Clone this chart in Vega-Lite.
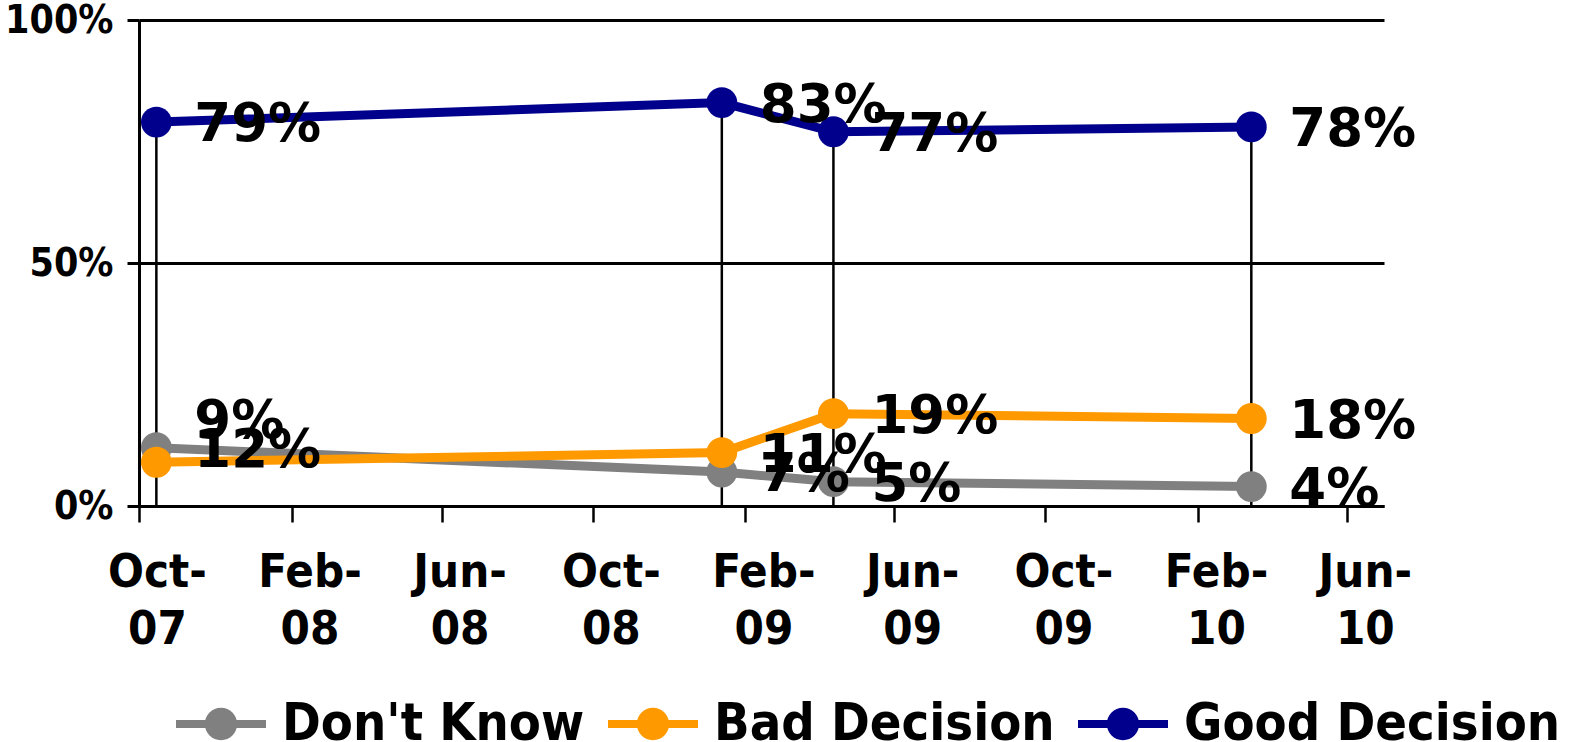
{
  "$schema": "https://vega.github.io/schema/vega-lite/v6.json",
  "autosize": {"type": "none"},
  "width": 1245,
  "height": 486,
  "padding": {"left": 139, "top": 20, "right": 194, "bottom": 236},
  "background": "white",
  "config": {"view": {"stroke": null}, "font": "DejaVu Sans"},
  "data": {
    "values": [
      {"date": "2007-10-15", "series": "Don't Know", "value": 12},
      {"date": "2009-01-13", "series": "Don't Know", "value": 7},
      {"date": "2009-04-13", "series": "Don't Know", "value": 5},
      {"date": "2010-03-16", "series": "Don't Know", "value": 4},
      {"date": "2007-10-15", "series": "Bad Decision", "value": 9},
      {"date": "2009-01-13", "series": "Bad Decision", "value": 11},
      {"date": "2009-04-13", "series": "Bad Decision", "value": 19},
      {"date": "2010-03-16", "series": "Bad Decision", "value": 18},
      {"date": "2007-10-15", "series": "Good Decision", "value": 79},
      {"date": "2009-01-13", "series": "Good Decision", "value": 83},
      {"date": "2009-04-13", "series": "Good Decision", "value": 77},
      {"date": "2010-03-16", "series": "Good Decision", "value": 78}
    ]
  },
  "encoding": {
    "x": {
      "field": "date",
      "type": "temporal",
      "scale": {
        "type": "utc",
        "domain": [
          {"year": 2007, "month": 10, "date": 1, "utc": true},
          {"year": 2010, "month": 7, "date": 1, "utc": true}
        ]
      },
      "axis": {
        "title": null,
        "values": [
          {"year": 2007, "month": 10, "date": 1, "utc": true},
          {"year": 2008, "month": 2, "date": 1, "utc": true},
          {"year": 2008, "month": 6, "date": 1, "utc": true},
          {"year": 2008, "month": 10, "date": 1, "utc": true},
          {"year": 2009, "month": 2, "date": 1, "utc": true},
          {"year": 2009, "month": 6, "date": 1, "utc": true},
          {"year": 2009, "month": 10, "date": 1, "utc": true},
          {"year": 2010, "month": 2, "date": 1, "utc": true},
          {"year": 2010, "month": 6, "date": 1, "utc": true}
        ],
        "labelExpr": "[utcFormat(datum.value, '%b') + '-', utcFormat(datum.value, '%y')]",
        "labelFont": "DejaVu Sans Condensed, DejaVu Sans",
        "labelFontWeight": "bold",
        "labelFontSize": 47,
        "labelColor": "black",
        "labelLineHeight": 57,
        "labelPadding": 27,
        "labelOffset": 18,
        "labelAlign": "center",
        "labelBaseline": "top",
        "labelOverlap": false,
        "labelFlush": false,
        "tickSize": 16,
        "tickColor": "black",
        "tickWidth": 2.5,
        "domainColor": "black",
        "domainWidth": 3,
        "grid": false
      }
    },
    "y": {
      "field": "value",
      "type": "quantitative",
      "scale": {"domain": [0, 100]},
      "axis": {
        "title": null,
        "values": [0, 50, 100],
        "labelExpr": "datum.value + '%'",
        "labelFont": "DejaVu Sans Condensed, DejaVu Sans",
        "labelFontWeight": "bold",
        "labelFontSize": 39,
        "labelColor": "black",
        "labelPadding": 14,
        "tickSize": 12,
        "tickColor": "black",
        "tickWidth": 3,
        "domainColor": "black",
        "domainWidth": 3,
        "grid": true,
        "gridColor": "black",
        "gridWidth": 3,
        "gridOpacity": 1
      }
    }
  },
  "layer": [
    {
      "transform": [{"filter": "datum.series === 'Good Decision'"}],
      "mark": {"type": "rule", "color": "black", "strokeWidth": 2.5},
      "encoding": {"y2": {"datum": 0}}
    },
    {
      "mark": {"type": "line", "strokeWidth": 9},
      "encoding": {
        "color": {
          "field": "series",
          "type": "nominal",
          "scale": {"domain": ["Don't Know", "Bad Decision", "Good Decision"], "range": ["#808080", "#FF9900", "#00008C"]},
          "legend": {
            "title": null,
            "orient": "none",
            "legendX": 37,
            "legendY": 659,
            "direction": "horizontal",
            "columns": 3,
            "padding": 0,
            "symbolType": "M-1,-0.09H1V0.09H-1Z M0.36,0A0.36,0.36 0 1,1 -0.36,0A0.36,0.36 0 1,1 0.36,0Z",
            "symbolSize": 8100,
            "symbolStrokeWidth": 0,
            "symbolOpacity": 1,
            "labelFont": "DejaVu Sans Condensed, DejaVu Sans",
            "labelFontWeight": "bold",
            "labelFontSize": 52,
            "labelColor": "black",
            "labelOffset": 16,
            "labelLimit": 800,
            "columnPadding": 23
          }
        }
      }
    },
    {
      "mark": {"type": "point", "filled": true, "opacity": 1, "size": 950, "strokeWidth": 0},
      "encoding": {
        "color": {
          "field": "series",
          "type": "nominal",
          "scale": {"domain": ["Don't Know", "Bad Decision", "Good Decision"], "range": ["#808080", "#FF9900", "#00008C"]},
          "legend": {
            "title": null,
            "orient": "none",
            "legendX": 37,
            "legendY": 659,
            "direction": "horizontal",
            "columns": 3,
            "padding": 0,
            "symbolType": "M-1,-0.09H1V0.09H-1Z M0.36,0A0.36,0.36 0 1,1 -0.36,0A0.36,0.36 0 1,1 0.36,0Z",
            "symbolSize": 8100,
            "symbolStrokeWidth": 0,
            "symbolOpacity": 1,
            "labelFont": "DejaVu Sans Condensed, DejaVu Sans",
            "labelFontWeight": "bold",
            "labelFontSize": 52,
            "labelColor": "black",
            "labelOffset": 16,
            "labelLimit": 800,
            "columnPadding": 23
          }
        }
      }
    },
    {
      "transform": [
        {"filter": "!(datum.series === 'Bad Decision' && year(datum.date) === 2007)"},
        {"calculate": "datum.value + '%'", "as": "label"}
      ],
      "mark": {"type": "text", "align": "left", "baseline": "middle", "dx": 38, "dy": 3, "font": "DejaVu Sans", "fontWeight": "bold", "fontSize": 53, "color": "black"},
      "encoding": {"text": {"field": "label", "type": "nominal"}}
    },
    {
      "transform": [
        {"filter": "datum.series === 'Bad Decision' && year(datum.date) === 2007"},
        {"calculate": "datum.value + '%'", "as": "label"}
      ],
      "mark": {"type": "text", "align": "left", "baseline": "middle", "dx": 38, "dy": -40, "font": "DejaVu Sans", "fontWeight": "bold", "fontSize": 53, "color": "black"},
      "encoding": {"text": {"field": "label", "type": "nominal"}}
    }
  ]
}
